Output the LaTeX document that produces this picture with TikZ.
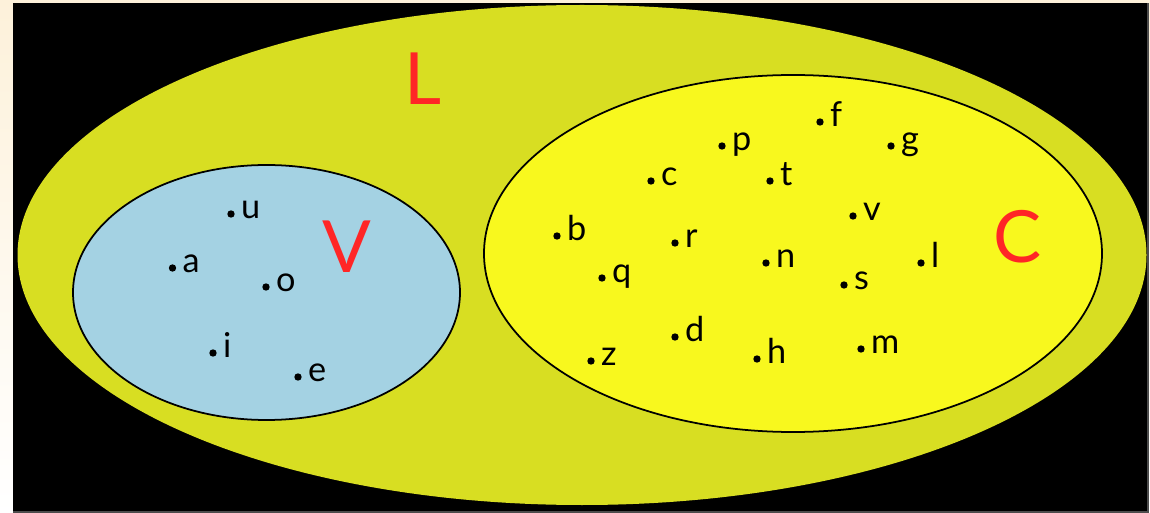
\documentclass[tikz,border=0pt]{standalone}
\usepackage{fontspec}
\setmainfont{Lato}
\usetikzlibrary{shapes.geometric}

\definecolor{setL}{HTML}{D8DE22}
\definecolor{setV}{HTML}{A4D2E3}
\definecolor{setC}{HTML}{F8F81E}
\definecolor{letred}{HTML}{FF2626}
\definecolor{paper}{HTML}{FDF1DA}

\tikzset{
  setbox/.style 2 args={ellipse, inner sep=0pt, minimum width=#1*0.02cm, minimum height=#2*0.02cm},
  elem/.style={circle, fill=black, inner sep=0pt, minimum size=4.2pt,
    label={[anchor=base west, inner sep=3.3pt, yshift=-2.3pt, font=\fontsize{19.5}{19.5}\selectfont]right:#1}},
  setname/.style={text=letred, font=\fontsize{41}{41}\selectfont, inner sep=0pt},
}

\begin{document}
\begin{tikzpicture}[x=0.02cm, y=-0.02cm]
    \useasboundingbox (0,0) rectangle (1150,513);
    % Sfondo
    \shade[top color=paper, bottom color=white] (0,0) rectangle (1150,513);
    \fill[black] (13,3) rectangle (1148,512);
    \draw[gray!60!black, line width=0.6pt] (13,512) -- (1148,512) -- (1148,3);

    % Insiemi
    \node[setbox={1129}{500}, fill=setL] (L) at (582,255) {};
    \node[setbox={387}{255}, fill=setV, draw, line width=1pt] (V) at (266.5,292.5) {};
    \node[setbox={618}{357}, fill=setC, draw, line width=1pt] (C) at (793,253.5) {};

    % Nomi degli insiemi
    \node[setname] (nameL) at (423,79) {L};
    \node[setname] (nameV) at (347,247) {V};
    \node[setname] (nameC) at (1018,237) {C};

    % Vocali
    \node[elem=u] (u) at (231,214) {};
    \node[elem=a] (a) at (172.5,268) {};
    \node[elem=o] (o) at (266,287) {};
    \node[elem=i] (i) at (213,353) {};
    \node[elem=e] (e) at (298,377) {};

    % Consonanti
    \node[elem=f] (f) at (820,122) {};
    \node[elem=p] (p) at (722,146) {};
    \node[elem=g] (g) at (891,146) {};
    \node[elem=c] (c) at (651,181) {};
    \node[elem=t] (t) at (770,181) {};
    \node[elem=v] (v) at (853,216) {};
    \node[elem=b] (b) at (557,236) {};
    \node[elem=r] (r) at (675,243) {};
    \node[elem=n] (n) at (766,263) {};
    \node[elem=l] (l) at (921,263) {};
    \node[elem=q] (q) at (602,278) {};
    \node[elem=s] (s) at (844,285) {};
    \node[elem=d] (d) at (675,337) {};
    \node[elem=m] (m) at (861,349) {};
    \node[elem=z] (z) at (591,361) {};
    \node[elem=h] (h) at (757,359) {};
\end{tikzpicture}
\end{document}
